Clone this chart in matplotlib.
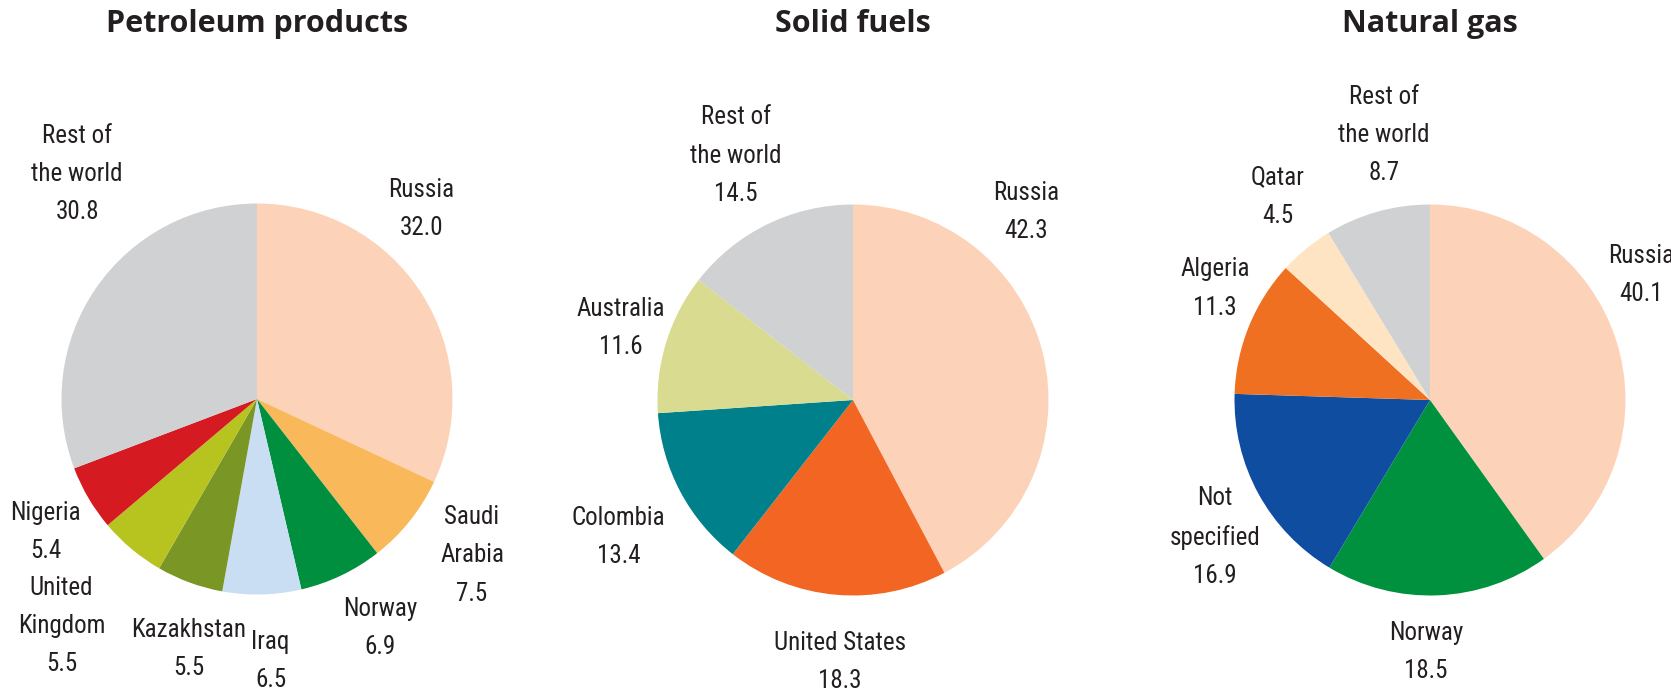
import matplotlib
matplotlib.use('Agg')
import matplotlib.pyplot as plt
from matplotlib import font_manager

# shares in %, clockwise from 12 o'clock
petro_labels = ['Russia', 'Saudi\nArabia', 'Norway', 'Iraq', 'Kazakhstan', 'United\nKingdom', 'Nigeria', 'Rest of\nthe world']
petro_values = [32.0, 7.5, 6.9, 6.5, 5.5, 5.5, 5.4, 30.8]
petro_colors = ['#fcd3b8', '#f9b95a', '#008f3e', '#c9def2', '#7a9624', '#b7c31e', '#d51a22', '#d0d1d3']

solid_labels = ['Russia', 'United States', 'Colombia', 'Australia', 'Rest of\nthe world']
solid_values = [42.3, 18.3, 13.4, 11.6, 14.5]
solid_colors = ['#fcd3b8', '#f26522', '#00808a', '#d8db90', '#d0d1d3']

gas_labels = ['Russia', 'Norway', 'Not\nspecified', 'Algeria', 'Qatar', 'Rest of\nthe world']
gas_values = [40.1, 18.5, 16.9, 11.3, 4.5, 8.7]
gas_colors = ['#fcd3b8', '#00913f', '#0e4da0', '#f07022', '#fee4c3', '#d0d1d3']

titles = ['Petroleum products', 'Solid fuels', 'Natural gas']

# label anchor positions, in pie radii from the centre
petro_pos = [(0.84, 0.97), (1.10, -0.80), (0.63, -1.17), (0.07, -1.34), (-0.35, -1.28), (-1.0, -1.16), (-1.08, -0.68), (-0.92, 1.15)]
solid_pos = [(0.885, 0.96), (-0.066, -1.34), (-1.20, -0.70), (-1.19, 0.37), (-0.60, 1.25)]
gas_pos = [(1.08, 0.64), (-0.02, -1.29), (-1.10, -0.70), (-1.10, 0.57), (-0.78, 1.04), (-0.235, 1.355)]

# pick a narrow face if one is there, the original uses a condensed sans
installed = {f.name for f in font_manager.fontManager.ttflist}
label_font, label_size, label_stretch = ['Roboto', 'DejaVu Sans'], 15, 'normal'
for name, size in [('Liberation Sans Narrow', 18), ('DejaVu Sans Condensed', 16), ('Roboto Condensed', 18)]:
    if name in installed:
        label_font, label_size = [name, 'DejaVu Sans'], size
        break

W, H = 1671, 699
fig = plt.figure(figsize=(W / 100, H / 100), dpi=100)

centres = [(257, 399), (853, 400), (1430, 400)]  # pixels from top-left
R = 195.5

charts = [
    (petro_labels, petro_values, petro_colors, petro_pos),
    (solid_labels, solid_values, solid_colors, solid_pos),
    (gas_labels, gas_values, gas_colors, gas_pos),
]

for (cx, cy), title, (labels, values, colors, pos) in zip(centres, titles, charts):
    ax = fig.add_axes([(cx - R) / W, 1 - (cy + R) / H, 2 * R / W, 2 * R / H])
    ax.pie(values, colors=colors, startangle=90, counterclock=False, radius=1,
           wedgeprops=dict(linewidth=0))
    ax.set_xlim(-1, 1)
    ax.set_ylim(-1, 1)
    ax.set_aspect('equal')
    ax.axis('off')
    for lab, v, (px, py) in zip(labels, values, pos):
        ax.text(px, py, f'{lab}\n{v:.1f}', ha='center', va='center', fontsize=label_size,
                family=label_font, color='#231f20', linespacing=1.75, clip_on=False)
    fig.text(cx / W, 1 - 24 / H, title, ha='center', va='center', fontsize=22,
             fontweight='bold', family=['Open Sans', 'DejaVu Sans'], color='#231f20')

fig.savefig('out.png', dpi=100, facecolor='white')
